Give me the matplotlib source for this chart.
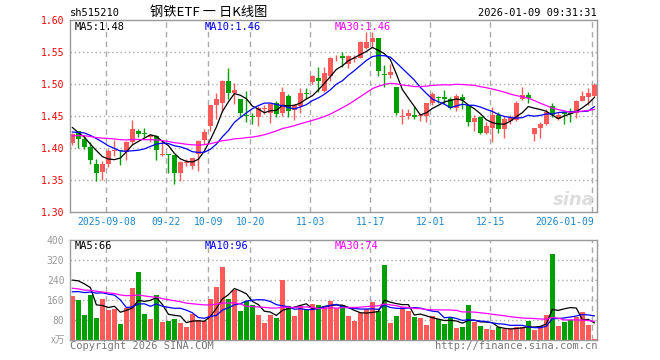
import numpy as np
import pandas as pd
import matplotlib
matplotlib.use("Agg")
import matplotlib.pyplot as plt

# daily bars, 2025-08-29 .. 2026-01-09 (88 sessions)
open_ = [1.408, 1.427, 1.414, 1.401, 1.375, 1.362, 1.375, 1.395, 1.396, 1.394,
         1.409, 1.427, 1.423, 1.417, 1.419, 1.389, 1.390, 1.389, 1.361, 1.377,
         1.372, 1.390, 1.413, 1.434, 1.467, 1.470, 1.505, 1.486, 1.477, 1.451,
         1.450, 1.449, 1.461, 1.454, 1.470, 1.454, 1.482, 1.459, 1.466, 1.486,
         1.503, 1.509, 1.489, 1.513, 1.540, 1.543, 1.532, 1.539, 1.541, 1.557,
         1.565, 1.572, 1.515, 1.514, 1.496, 1.449, 1.450, 1.452, 1.450, 1.450,
         1.470, 1.479, 1.479, 1.476, 1.463, 1.479, 1.467, 1.440, 1.449, 1.424,
         1.432, 1.452, 1.430, 1.442, 1.443, 1.476, 1.483, 1.422, 1.431, 1.438,
         1.466, 1.445, 1.456, 1.454, 1.454, 1.474, 1.480, 1.482]
high = [1.424, 1.427, 1.420, 1.409, 1.383, 1.380, 1.398, 1.413, 1.396, 1.411,
        1.443, 1.430, 1.431, 1.422, 1.421, 1.411, 1.390, 1.389, 1.380, 1.383,
        1.385, 1.413, 1.430, 1.467, 1.486, 1.506, 1.525, 1.502, 1.477, 1.489,
        1.455, 1.466, 1.467, 1.470, 1.473, 1.495, 1.484, 1.469, 1.494, 1.494,
        1.514, 1.527, 1.527, 1.542, 1.546, 1.550, 1.546, 1.545, 1.567, 1.582,
        1.582, 1.572, 1.530, 1.531, 1.496, 1.461, 1.461, 1.466, 1.454, 1.471,
        1.488, 1.481, 1.490, 1.479, 1.484, 1.484, 1.467, 1.452, 1.450, 1.440,
        1.464, 1.456, 1.450, 1.452, 1.474, 1.496, 1.488, 1.432, 1.440, 1.461,
        1.470, 1.456, 1.458, 1.462, 1.475, 1.489, 1.493, 1.501]
low = [1.405, 1.400, 1.398, 1.375, 1.348, 1.350, 1.370, 1.388, 1.374, 1.381,
       1.405, 1.417, 1.417, 1.409, 1.382, 1.387, 1.361, 1.343, 1.348, 1.372,
       1.367, 1.364, 1.407, 1.426, 1.445, 1.457, 1.477, 1.469, 1.448, 1.440,
       1.437, 1.435, 1.453, 1.439, 1.448, 1.450, 1.449, 1.444, 1.454, 1.476,
       1.500, 1.488, 1.487, 1.505, 1.536, 1.527, 1.525, 1.534, 1.540, 1.554,
       1.557, 1.512, 1.496, 1.509, 1.452, 1.438, 1.445, 1.445, 1.442, 1.440,
       1.467, 1.471, 1.469, 1.461, 1.458, 1.461, 1.435, 1.427, 1.422, 1.422,
       1.409, 1.423, 1.416, 1.437, 1.442, 1.475, 1.471, 1.411, 1.416, 1.436,
       1.449, 1.444, 1.438, 1.440, 1.447, 1.473, 1.467, 1.480]
close = [1.422, 1.414, 1.401, 1.382, 1.361, 1.375, 1.395, 1.396, 1.395, 1.409,
         1.429, 1.422, 1.422, 1.421, 1.397, 1.390, 1.389, 1.361, 1.378, 1.378,
         1.384, 1.411, 1.425, 1.467, 1.477, 1.505, 1.486, 1.490, 1.454, 1.450,
         1.448, 1.462, 1.462, 1.469, 1.453, 1.487, 1.458, 1.467, 1.486, 1.485,
         1.512, 1.504, 1.517, 1.540, 1.541, 1.540, 1.544, 1.540, 1.565, 1.565,
         1.572, 1.521, 1.514, 1.518, 1.454, 1.450, 1.454, 1.449, 1.451, 1.471,
         1.484, 1.478, 1.476, 1.463, 1.482, 1.475, 1.440, 1.447, 1.424, 1.435,
         1.452, 1.430, 1.445, 1.447, 1.471, 1.483, 1.478, 1.432, 1.437, 1.457,
         1.452, 1.452, 1.453, 1.453, 1.474, 1.482, 1.486, 1.499]
volume = [175, 159, 99, 182, 87, 163, 119, 123, 63, 127,
          208, 272, 103, 83, 182, 71, 75, 83, 67, 51,
          103, 79, 75, 163, 212, 292, 163, 200, 115, 155,
          139, 99, 67, 99, 87, 240, 135, 95, 135, 119,
          143, 139, 135, 155, 129, 139, 95, 75, 107, 123,
          151, 115, 300, 67, 95, 131, 115, 91, 87, 59,
          95, 86, 63, 90, 47, 51, 139, 71, 55, 43,
          39, 51, 46, 43, 51, 51, 75, 39, 55, 99,
          344, 55, 71, 79, 91, 111, 59, 3]

# sessions before the window (not drawn), estimated from where the MA lines start
warmup_close = [1.40, 1.41, 1.42, 1.41, 1.40, 1.41, 1.42, 1.43, 1.42, 1.41,
                1.42, 1.43, 1.42, 1.41, 1.42, 1.43, 1.42, 1.41, 1.42, 1.41,
                1.42, 1.41, 1.42, 1.41, 1.43, 1.454, 1.436, 1.437, 1.411]
warmup_vol = [230, 250, 210, 190, 260, 220, 200, 240, 210, 180,
              230, 200, 190, 220, 250, 210, 200, 190, 220, 180,
              150, 140, 160, 130, 150, 174, 159, 257, 433]

date_idx = [6, 16, 23, 30, 40, 50, 60, 70, 87]
date_labels = ["2025-09-08", "09-22", "10-09", "10-20", "11-03",
               "11-17", "12-01", "12-15", "2026-01-09"]
price_ticks = [1.30, 1.35, 1.40, 1.45, 1.50, 1.55, 1.60]
vol_ticks = [80, 160, 240, 320, 400]

RED = "#ff5a5a"
GREEN = "#00a000"
GRID = "#aaaaaa"
MONO = "DejaVu Sans Mono"
CJK = ["Noto Sans CJK SC", "DejaVu Sans"]


def ma(series, warm, n):
    full = pd.Series(list(warm) + list(series), dtype=float)
    return full.rolling(n).mean().to_numpy()[len(warm):]


W, H = 660, 360
fig = plt.figure(figsize=(W / 100, H / 100), dpi=100)
ax = fig.add_axes([70 / W, 1 - 212 / H, 527 / W, 192 / H])
axv = fig.add_axes([70 / W, 1 - 340 / H, 527 / W, 100 / H])

x = np.arange(len(close))
o = np.array(open_)
c = np.array(close)
col = np.where(c >= o, RED, GREEN)
xlim = (-0.4, 87.45)
gx = [i - 0.35 for i in date_idx]

# candles
ax.vlines(x, low, high, colors=col, linewidth=1)
body = np.maximum(np.abs(c - o), 0.0012)
ax.bar(x, body, bottom=np.minimum(o, c), width=0.75, color=col, linewidth=0)
ax.plot(x, ma(close, warmup_close, 5), color="black", lw=0.9)
ax.plot(x, ma(close, warmup_close, 10), color="#0000ff", lw=0.9)
ax.plot(x, ma(close, warmup_close, 30), color="#ff00ff", lw=0.9)

ax.set_xlim(*xlim)
ax.set_ylim(1.30, 1.60)
for p in price_ticks[1:-1]:
    ax.axhline(p, color=GRID, lw=1, ls=(0, (1, 2)), zorder=0)
for g in gx:
    ax.axvline(g, color=GRID, lw=1, ls=(0, (4, 3)), zorder=0)
ax.set_yticks(price_ticks)
ax.set_yticklabels(["%.2f" % p for p in price_ticks], color="red",
                   fontsize=7, family=MONO)
ax.set_xticks([])
ax.tick_params(axis="y", length=0, pad=4)
for i, (g, lab) in enumerate(zip(gx, date_labels)):
    ha = "right" if i == len(gx) - 1 else "center"
    ax.text(g + (0.3 if ha == "right" else 0), -0.05, lab, transform=ax.get_xaxis_transform(),
            ha=ha, va="center", fontsize=7, family=MONO, color="#1a86d0")
ax.text(0.995, 0.06, "sina", transform=ax.transAxes, ha="right", va="center",
        fontsize=13, style="italic", weight="bold", color="#dddddd", zorder=0)

# volume
axv.bar(x, volume, width=0.8, color=col, linewidth=0)
axv.plot(x, ma(volume, warmup_vol, 5), color="black", lw=0.9)
axv.plot(x, ma(volume, warmup_vol, 10), color="#0000ff", lw=0.9)
axv.plot(x, ma(volume, warmup_vol, 30), color="#ff00ff", lw=0.9)
axv.set_xlim(*xlim)
axv.set_ylim(0, 400)
for v in vol_ticks[:-1]:
    axv.axhline(v, color=GRID, lw=1, ls=(0, (1, 2)), zorder=0)
for g in gx:
    axv.axvline(g, color=GRID, lw=1, ls=(0, (4, 3)), zorder=0)
axv.set_xticks([])
axv.set_yticks(vol_ticks)
axv.set_yticklabels([str(v) for v in vol_ticks], color="#999999",
                    fontsize=7, family=MONO)
axv.tick_params(axis="y", length=0, pad=4)
axv.text(-0.008, 0.0, "x万", transform=axv.transAxes, ha="right", va="center",
         fontsize=7, family=CJK, color="#999999")

for a in (ax, axv):
    for s in a.spines.values():
        s.set_color("#999999")
        s.set_linewidth(1)

# header and legends
fig.text(70 / W, 1 - 12.5 / H, "sh515210", fontsize=7.5, family=MONO, va="center")
fig.text(209 / W, 1 - 12.5 / H, "钢铁ETF 一 日K线图", fontsize=9.5, family=CJK,
         va="center", ha="center")
fig.text(597 / W, 1 - 12.5 / H, "2026-01-09 09:31:31", fontsize=7.5, family=MONO,
         va="center", ha="right")
for xp, txt, cl in [(75, "MA5:1.48", "black"), (205, "MA10:1.46", "#0000ff"),
                    (335, "MA30:1.46", "#ff00ff")]:
    fig.text(xp / W, 1 - 26.5 / H, txt, fontsize=7.5, family=MONO, color=cl, va="center")
for xp, txt, cl in [(75, "MA5:66", "black"), (205, "MA10:96", "#0000ff"),
                    (335, "MA30:74", "#ff00ff")]:
    fig.text(xp / W, 1 - 246 / H, txt, fontsize=7.5, family=MONO, color=cl, va="center")
fig.text(70 / W, 1 - 346 / H, "Copyright 2026 SINA.COM", fontsize=7.5, family=MONO,
         color="#777777", va="center")
fig.text(597 / W, 1 - 346 / H, "http://finance.sina.com.cn", fontsize=7.5, family=MONO,
         color="#777777", va="center", ha="right")

fig.savefig("out.png", dpi=100, facecolor="white")
